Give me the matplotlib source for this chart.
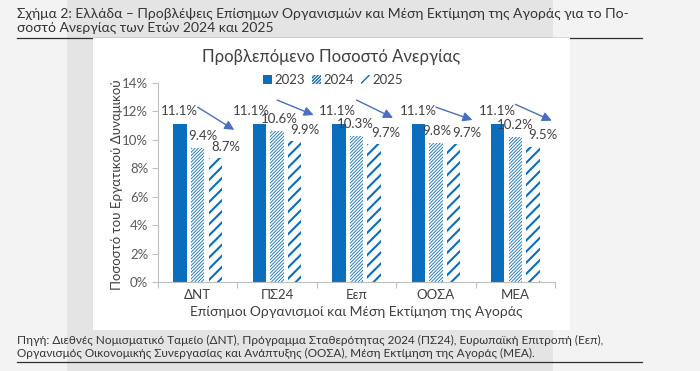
"""Σχήμα 2: προβλέψεις ανεργίας για την Ελλάδα (ομαδοποιημένες μπάρες)."""
import matplotlib
matplotlib.use("Agg")
import matplotlib.pyplot as plt
from matplotlib.patches import Rectangle
from matplotlib.lines import Line2D
import numpy as np

plt.rcParams["font.family"] = ["Lato", "DejaVu Sans"]

# --- δεδομένα -------------------------------------------------------------
categories = ["ΔΝΤ", "ΠΣ24", "Εεπ", "ΟΟΣΑ", "ΜΕΑ"]
years = ["2023", "2024", "2025"]
u2023 = [11.1, 11.1, 11.1, 11.1, 11.1]
u2024 = [9.4, 10.6, 10.3, 9.8, 10.2]
u2025 = [8.7, 9.9, 9.7, 9.7, 9.5]
y_ticks = [0, 2, 4, 6, 8, 10, 12, 14]
# βέλη τάσης: ύψος αρχής / τέλους (σε % του άξονα)
arrow_y0 = [12.3, 12.8, 12.8, 12.3, 12.5]
arrow_y1 = [10.7, 11.75, 11.55, 11.4, 11.35]

title_txt = ("Σχήμα 2: Ελλάδα – Προβλέψεις Επίσημων Οργανισμών και Μέση Εκτίμηση "
             "της Αγοράς για το Πο-\nσοστό Ανεργίας των Ετών 2024 και 2025")
source_txt = ("Πηγή: Διεθνές Νομισματικό Ταμείο (ΔΝΤ), Πρόγραμμα Σταθερότητας 2024 "
              "(ΠΣ24), Ευρωπαϊκή Επιτροπή (Εεπ),\nΟργανισμός Οικονομικής Συνεργασίας "
              "και Ανάπτυξης (ΟΟΣΑ), Μέση Εκτίμηση της Αγοράς (ΜΕΑ).")

BLUE = "#0a6ebd"
ARROW = "#4a6fc0"
TXT = "#404040"
AXIS = "#bfbfbf"

W, H = 700, 371
fig = plt.figure(figsize=(W / 100, H / 100), dpi=100)
fig.patch.set_facecolor("#f3f3f3")

# φόντο σελίδας: γκρι λωρίδα, υπογραμμίσεις, λευκό πλαίσιο γραφήματος
fig.patches.append(Rectangle((67 / W, 0), (553 - 67) / W, 1, transform=fig.transFigure,
                             facecolor="#e4e4e4", edgecolor="none", zorder=-3))
for yy in (38, 362):
    fig.lines.append(Line2D([17 / W, 642 / W], [1 - yy / H] * 2, transform=fig.transFigure,
                            color="#303030", lw=0.9, zorder=-2))
fig.patches.append(Rectangle((93 / W, 1 - 330 / H), (570 - 93) / W, (330 - 38) / H,
                             transform=fig.transFigure, facecolor="white",
                             edgecolor="none", zorder=-1))

fig.text(17 / W, 1 - 8 / H, title_txt, ha="left", va="top", fontsize=10,
         color="#333333", linespacing=1.15)
fig.text(17 / W, 1 - 335 / H, source_txt, ha="left", va="top", fontsize=8.5,
         color="#333333", linespacing=1.2)

ax = fig.add_axes([158 / W, 1 - 282 / H, (555 - 158) / W, (282 - 83) / H])
ax.set_facecolor("none")

x = np.arange(len(categories))
step, width = 0.222, 0.17
series = [u2023, u2024, u2025]
styles = [dict(color=BLUE, hatch=None, hlw=None),
          dict(color="white", hatch="//////////", hlw=0.6),
          dict(color="white", hatch="///", hlw=1.5)]
# μετατόπιση ετικετών (px), όπως έχουν μετακινηθεί στο πρωτότυπο
label_dx = [[-1, -8, -2, 0, 0], [5, 2, -1, 1, 0], [11, 10, 12, 13, 10]]
label_dy = [13, 12, 11.5]

for i, (vals, st) in enumerate(zip(series, styles)):
    bars = ax.bar(x + (i - 1) * step, vals, width, color=st["color"], edgecolor=BLUE,
                  hatch=st["hatch"], linewidth=0, label=years[i])
    if st["hlw"] is not None:
        for b in bars:
            b.set_hatch_linewidth(st["hlw"])
    for b, v, dx in zip(bars, vals, label_dx[i]):
        ax.annotate(f"{v:.1f}%", (b.get_x() + b.get_width() / 2, v),
                    xytext=(dx * 0.72, label_dy[i] * 0.72), textcoords="offset points",
                    ha="center", va="center", fontsize=9.5, color=TXT)

for xi, y0, y1 in zip(x, arrow_y0, arrow_y1):
    ax.annotate("", xy=(xi + 0.46, y1), xytext=(xi + 0.0, y0),
                arrowprops=dict(arrowstyle="-|>", color=ARROW, lw=1.0,
                                mutation_scale=14, shrinkA=0, shrinkB=0))

ax.set_xlim(-0.5, len(categories) - 0.5)
ax.set_ylim(0, 14)
ax.set_yticks(y_ticks)
ax.set_yticklabels([f"{t}%" for t in y_ticks])
ax.set_xticks(x)
ax.set_xticklabels(categories)
ax.set_xticks(np.arange(-0.5, len(categories)), minor=True)
ax.tick_params(axis="x", which="major", length=0, pad=5, labelsize=9.5, labelcolor=TXT)
ax.tick_params(axis="x", which="minor", length=4, color=AXIS, width=0.8)
ax.tick_params(axis="y", length=4, color=AXIS, width=0.8, pad=3, labelsize=9.5,
               labelcolor="#595959")
for s in ("top", "right"):
    ax.spines[s].set_visible(False)
for s in ("left", "bottom"):
    ax.spines[s].set_color(AXIS)
    ax.spines[s].set_linewidth(0.8)

ax.set_ylabel("Ποσοστό του Εργατικού Δυναμικού", fontsize=9.5, color=TXT, va="center")
ax.yaxis.set_label_coords((117 - 158) / (555 - 158), 0.49)
ax.set_xlabel("Επίσημοι Οργανισμοί και Μέση Εκτίμηση της Αγοράς", fontsize=10,
              color=TXT, va="center")
ax.xaxis.set_label_coords(0.5, (282 - 312) / (282 - 83))

fig.text(331 / W, 1 - 57 / H, "Προβλεπόμενο Ποσοστό Ανεργίας", ha="center",
         va="center", fontsize=12, color=TXT)
ax.legend(loc="center", bbox_to_anchor=(333 / W, 1 - 80 / H),
          bbox_transform=fig.transFigure, ncol=3, frameon=False, fontsize=9.5,
          handlelength=0.7, handleheight=0.7, handletextpad=0.2,
          columnspacing=0.5, labelcolor=TXT, borderpad=0)

fig.savefig("out.png", dpi=100)
